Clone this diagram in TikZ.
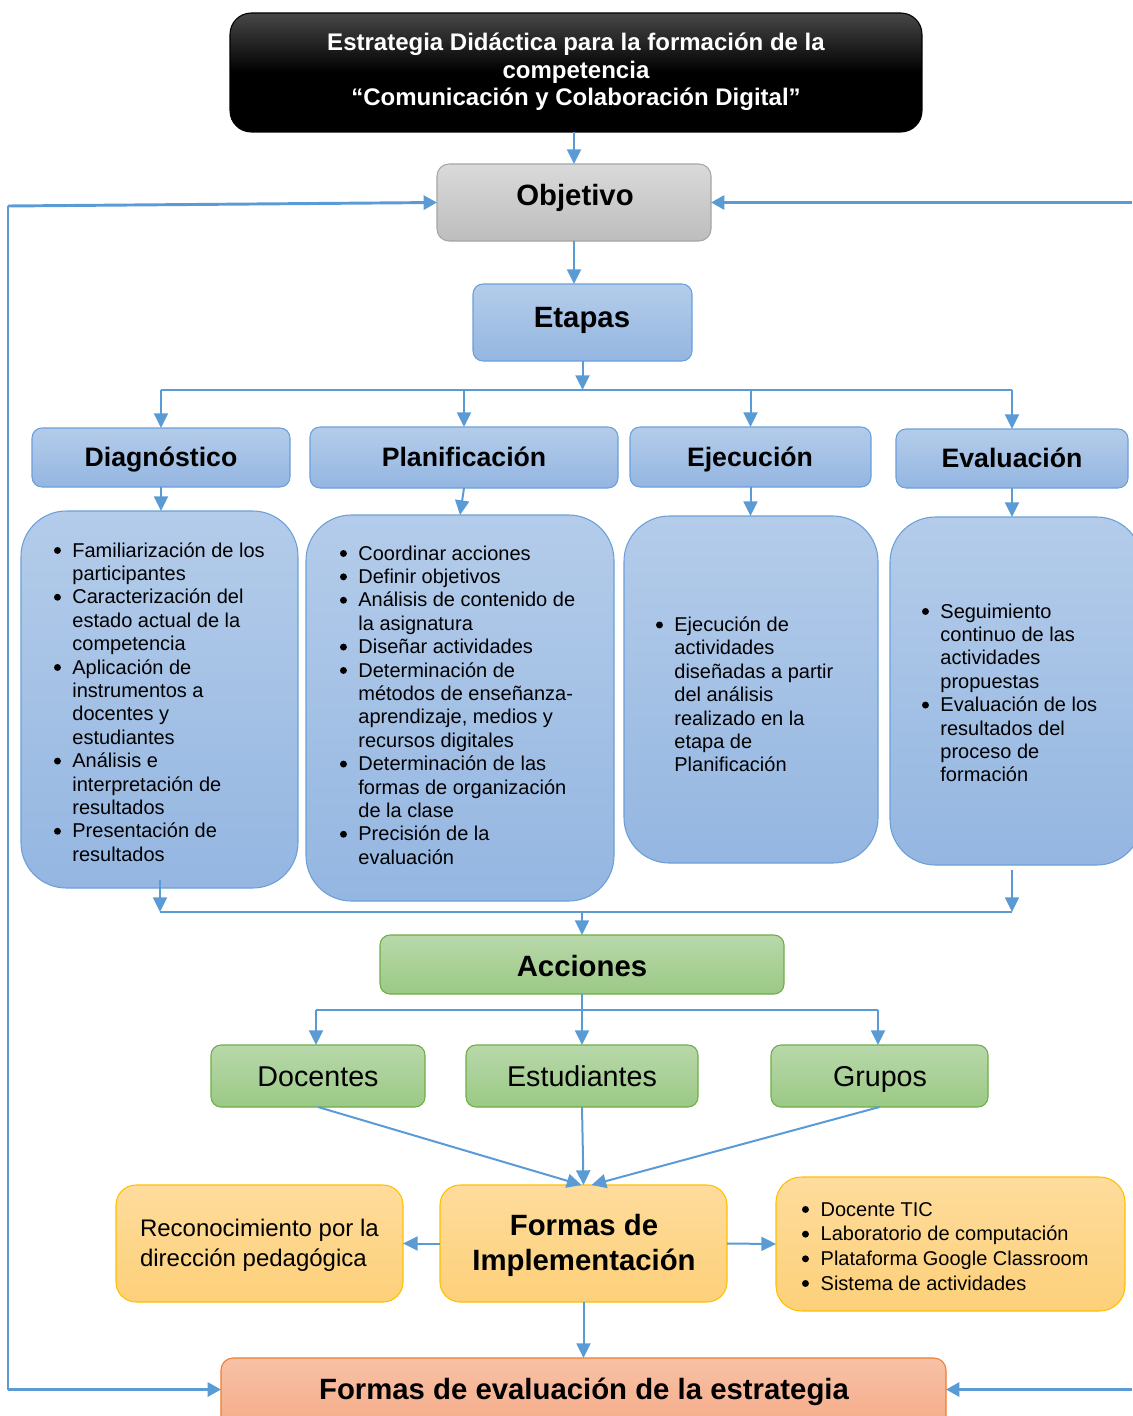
\documentclass[tikz,border=0pt]{standalone}
\usepackage{fontspec}
\setmainfont{Liberation Sans}
\usetikzlibrary{arrows.meta,fit,calc}
\definecolor{ablue}{HTML}{5B9BD5}
\definecolor{btop}{HTML}{B4CCEA}
\definecolor{bbot}{HTML}{94B6E1}
\definecolor{bborder}{HTML}{6A9FD9}
\definecolor{gtop}{HTML}{B8D8AA}
\definecolor{gbot}{HTML}{9BC985}
\definecolor{gborder}{HTML}{70AD47}
\definecolor{otop}{HTML}{FEDC9C}
\definecolor{obot}{HTML}{FDD07A}
\definecolor{oborder}{HTML}{FFC000}
\definecolor{stop}{HTML}{F8C1A6}
\definecolor{sbot}{HTML}{F4A883}
\definecolor{sborder}{HTML}{ED7D31}
\definecolor{grtop}{HTML}{DADADA}
\definecolor{grbot}{HTML}{BDBDBD}
\definecolor{grborder}{HTML}{A5A5A5}
\newcommand\bdot{\tikz[baseline=0pt]\fill[black] (2.6pt,4.9pt) circle[radius=2.6pt];}
\begin{document}
\begin{tikzpicture}[x=0.75pt,y=-0.75pt,
  every node/.style={inner sep=0pt,outer sep=0pt},
  boxbase/.style={line width=0.8pt},
  titlebox/.style={boxbase,draw=black,top color=black!72,bottom color=black,middle color=black,rounded corners=16pt},
  graybox/.style={boxbase,draw=grborder,top color=grtop,bottom color=grbot,rounded corners=9pt},
  bluebox/.style={boxbase,draw=bborder,top color=btop,bottom color=bbot,rounded corners=7.5pt},
  bluecont/.style={boxbase,draw=bborder,top color=btop,bottom color=bbot,rounded corners=34pt},
  greenbox/.style={boxbase,draw=gborder,top color=gtop,bottom color=gbot,rounded corners=7.5pt},
  orangebox/.style={boxbase,draw=oborder,top color=otop,bottom color=obot,rounded corners=15pt},
  salmonbox/.style={boxbase,draw=sborder,top color=stop,bottom color=sbot,rounded corners=9pt},
  titletxt/.style={anchor=base,text=white,font=\fontsize{18pt}{20.8pt}\selectfont\bfseries},
  bigtxt/.style={anchor=base,font=\fontsize{22pt}{26pt}\selectfont\bfseries},
  hdrtxt/.style={anchor=base,font=\fontsize{20pt}{24pt}\selectfont\bfseries},
  regtxt/.style={anchor=base,font=\fontsize{21.5pt}{26pt}\selectfont},
  listtxt/.style={anchor=base west,font=\fontsize{15pt}{17.55pt}\selectfont},
  conn/.style={draw=ablue,line width=1.5pt,-{Triangle[width=10.5pt,length=11pt]}},
  busln/.style={draw=ablue,line width=1.2pt},
  fbk/.style={draw=ablue,line width=2.2pt,-{Triangle[width=10.5pt,length=10pt]}},
  fbkln/.style={draw=ablue,line width=1.2pt}
]
\useasboundingbox (0,0) rectangle (1132,1416);

% Title
\node[titlebox,fit={(230,13) (922,132)}] (title) {};
\node[titletxt] (titlet) at (576,50.5) {\begin{tabular}[t]{@{}c@{}}Estrategia Didáctica para la formación de la\\competencia\\“Comunicación y Colaboración Digital”\end{tabular}};

% Objetivo / Etapas
\node[graybox,fit={(437,164) (711,241)}] (obj) {};
\node[bigtxt] (objt) at (575,205) {Objetivo};
\node[bluebox,fit={(473,284) (692,361)}] (etapas) {};
\node[bigtxt] (etapast) at (582,327) {Etapas};

% Stage headers
\node[bluebox,fit={(32,428) (290,487)}] (diag) {};
\node[hdrtxt] (diagt) at (161,466) {Diagnóstico};
\node[bluebox,fit={(310,427) (618,488)}] (plan) {};
\node[hdrtxt] (plant) at (464,466) {Planificación};
\node[bluebox,fit={(630,427) (871,487)}] (ejec) {};
\node[hdrtxt] (eject) at (750,466) {Ejecución};
\node[bluebox,fit={(896,429) (1128,488)}] (eval) {};
\node[hdrtxt] (evalt) at (1012,467) {Evaluación};

% Content boxes
\node[bluecont,fit={(21,511) (298,888)}] (diagc) {};
\node[listtxt] (diagl) at (54,557) {\begin{tabular}[t]{@{}p{13.8pt}@{}l@{}}
\bdot & Familiarización de los\\ & participantes\\
\bdot & Caracterización del\\ & estado actual de la\\ & competencia\\
\bdot & Aplicación de\\ & instrumentos a\\ & docentes y\\ & estudiantes\\
\bdot & Análisis e\\ & interpretación de\\ & resultados\\
\bdot & Presentación de\\ & resultados\end{tabular}};

\node[bluecont,fit={(306,515) (614,901)}] (planc) {};
\node[listtxt] (planl) at (340,560) {\begin{tabular}[t]{@{}p{13.8pt}@{}l@{}}
\bdot & Coordinar acciones\\
\bdot & Definir objetivos\\
\bdot & Análisis de contenido de\\ & la asignatura\\
\bdot & Diseñar actividades\\
\bdot & Determinación de\\ & métodos de enseñanza-\\ & aprendizaje, medios y\\ & recursos digitales\\
\bdot & Determinación de las\\ & formas de organización\\ & de la clase\\
\bdot & Precisión de la\\ & evaluación\end{tabular}};

\node[bluecont,fit={(624,516) (878,863)}] (ejecc) {};
\node[listtxt] (ejecl) at (656,631.5) {\begin{tabular}[t]{@{}p{13.8pt}@{}l@{}}
\bdot & Ejecución de\\ & actividades\\ & diseñadas a partir\\ & del análisis\\ & realizado en la\\ & etapa de\\ & Planificación\end{tabular}};

\node[bluecont,fit={(890,517) (1142,865)}] (evalc) {};
\node[listtxt] (evall) at (922,618) {\begin{tabular}[t]{@{}p{13.8pt}@{}l@{}}
\bdot & Seguimiento\\ & continuo de las\\ & actividades\\ & propuestas\\
\bdot & Evaluación de los\\ & resultados del\\ & proceso de\\ & formación\end{tabular}};

% Acciones
\node[greenbox,fit={(380,935) (784,994)}] (acc) {};
\node[bigtxt] (acct) at (582,976) {Acciones};
\node[greenbox,fit={(211,1045) (425,1107)}] (doc) {};
\node[regtxt] (doct) at (318,1086) {Docentes};
\node[greenbox,fit={(466,1045) (698,1107)}] (est) {};
\node[regtxt] (estt) at (582,1086) {Estudiantes};
\node[greenbox,fit={(771,1045) (988,1107)}] (grp) {};
\node[regtxt] (grpt) at (880,1086) {Grupos};

% Formas de implementación
\node[orangebox,fit={(440,1185) (727,1302)}] (formas) {};
\node[anchor=base,font=\fontsize{22pt}{26.25pt}\selectfont\bfseries] (formast) at (584,1235) {\begin{tabular}[t]{@{}c@{}}Formas de\\Implementación\end{tabular}};
\node[orangebox,fit={(116,1185) (403,1302)}] (recon) {};
\node[anchor=base west,font=\fontsize{18pt}{22.5pt}\selectfont] (recont) at (140,1236) {\begin{tabular}[t]{@{}l@{}}Reconocimiento por la\\dirección pedagógica\end{tabular}};
\node[orangebox,rounded corners=19pt,fit={(776,1177) (1125,1311)}] (list) {};
\node[anchor=base west,font=\fontsize{15pt}{18.5pt}\selectfont] (listt) at (802,1216) {\begin{tabular}[t]{@{}p{14pt}@{}l@{}}
\bdot & Docente TIC\\
\bdot & Laboratorio de computación\\
\bdot & Plataforma Google Classroom\\
\bdot & Sistema de actividades\end{tabular}};

% Bottom
\node[salmonbox,fit={(221,1358) (946,1440)}] (bot) {};
\node[bigtxt] (bott) at (584,1399) {Formas de evaluación de la estrategia};

% Connectors
\draw[conn] (obj.north |- title.south) -- (obj.north);
\draw[conn] (obj.south) -- (obj.south |- etapas.north);
\coordinate (busL) at (161,390);
\coordinate (busR) at (1012,390);
\draw[conn] (etapas.south) -- (etapas.south |- busL);
\draw[busln] (busL) -- (busR);
\draw[conn] (busL) -- (diag.north);
\draw[conn] (plan.north |- busL) -- (plan.north);
\draw[conn] (ejec.north |- busL) -- (ejec.north);
\draw[conn] (busR) -- (eval.north);

\draw[conn] (diag.south) -- (diag.south |- diagc.north);
\draw[conn] (plan.south) -- (planc.north);
\draw[conn] (ejec.south) -- (ejec.south |- ejecc.north);
\draw[conn] (eval.south) -- (eval.south |- evalc.north);

\coordinate (d1) at (160,880);
\coordinate (d2) at (1012,870);
\coordinate (lbL) at (160,912);
\coordinate (lbR) at (1012,912);
\draw[conn] (d1) -- (lbL);
\draw[conn] (d2) -- (lbR);
\draw[busln] (lbL) -- (lbR);
\draw[conn] (acc.north |- lbL) -- (acc.north);

\coordinate (abL) at (316,1010);
\coordinate (abR) at (878,1010);
\draw[conn] (acc.south) -- (acc.south |- est.north);
\draw[busln] (abL) -- (abR);
\draw[conn] (abL) -- (abL |- doc.north);
\draw[conn] (abR) -- (abR |- grp.north);

\draw[conn] (doc.south) -- ([xshift=-1.5pt]formas.north);
\draw[conn] (est.south) -- (formas.north);
\draw[conn] (grp.south) -- ([xshift=6pt]formas.north);
\draw[conn] (formas.west) -- (recon.east);
\draw[conn] (formas.east) -- (list.west);
\draw[conn] (formas.south) -- (formas.south |- bot.north);

% Feedback loops
\coordinate (fl1) at (8,206);
\coordinate (fl2) at (8,1389.5);
\coordinate (fr1) at (1132,202.5);
\coordinate (fr2) at (1132,1389.5);
\draw[fbk] (fl1) -- (obj.west);
\draw[fbkln] (fl1) -- (fl2);
\draw[fbk] (fl2) -- (bot.west |- fl2);
\draw[fbk] (fr1) -- (obj.east);
\draw[fbk] (fr2) -- (bot.east |- fr2);
\end{tikzpicture}
\end{document}
